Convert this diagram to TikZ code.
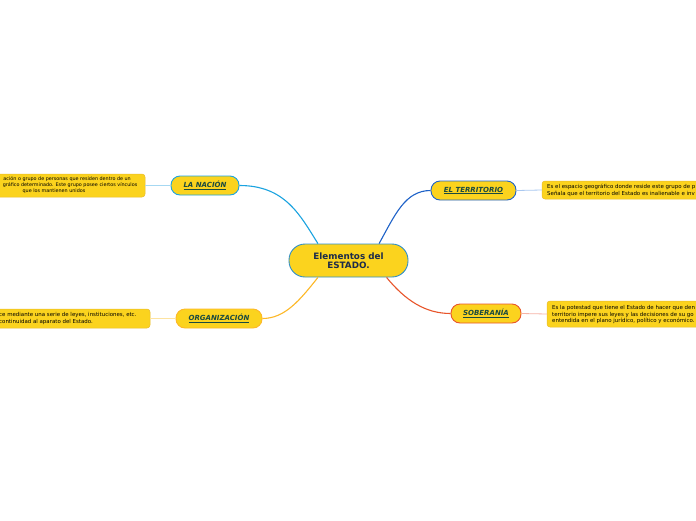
\documentclass[tikz,border=0pt]{standalone}
\usepackage{fontspec}
\setmainfont{DejaVu Sans}
\begin{document}
\begin{tikzpicture}[x=1pt,y=-1pt,
  yel/.style={fill=fillY},
  center/.style={yel,draw=bordC,line width=0.9pt,rounded corners=16pt,minimum width=119pt,minimum height=33pt,inner sep=0pt,align=center,text=txtC,font=\fontsize{8.8}{10.5}\selectfont\bfseries},
  topic/.style={yel,line width=0.9pt,rounded corners=9pt,minimum height=19pt,inner sep=0pt,text=txtT,font=\fontsize{7}{8}\selectfont\bfseries\itshape},
  notebox/.style={fill=fillY,draw=noteB,line width=0.5pt,rounded corners=3pt},
  notetxt/.style={inner sep=0pt,text=black,font=\fontsize{5.45}{6.5}\selectfont},
  notesmall/.style={inner sep=0pt,text=black,font=\fontsize{4.85}{6}\selectfont},
  mainlink/.style={line width=1.1pt},
  leaflink/.style={line width=0.8pt}
]
\definecolor{fillY}{HTML}{FBD31E}
\definecolor{bordC}{HTML}{2F8FC8}
\definecolor{txtC}{HTML}{1C2B4A}
\definecolor{txtT}{HTML}{1A4A40}
\definecolor{noteB}{HTML}{E9BC2A}
\definecolor{cNac}{HTML}{1AA3E0}
\definecolor{cTer}{HTML}{1E62C8}
\definecolor{cSob}{HTML}{E8552B}
\definecolor{cOrg}{HTML}{FDB827}
\definecolor{lNac}{HTML}{A6D8F2}
\definecolor{lTer}{HTML}{A9C8F0}
\definecolor{lSob}{HTML}{F6B3A6}
\definecolor{lOrg}{HTML}{FDE3A0}
\path[use as bounding box] (0,0) rectangle (696,520);
\fill[white] (0,0) rectangle (696,520);
\clip (0,0) rectangle (696,520);

% note boxes
\path[notebox] (-40,174) rectangle (145,197);
\coordinate (nacNote) at (145,185.5);
\path[notebox] (-40,309) rectangle (150,328);
\coordinate (orgNote) at (150,318.5);
\path[notebox] (542,181) rectangle (740,199);
\coordinate (terNote) at (542,190);
\path[notebox] (547,301) rectangle (740,327);
\coordinate (sobNote) at (547,314);

\node[notesmall,anchor=east] (n1a) at (131,179.5) {ación o grupo de personas que residen dentro de un};
\node[notesmall,anchor=east] (n1b) at (137.5,185.5) {gráfico determinado. Este grupo posee ciertos vínculos};
\node[notesmall] (n1c) at (54,191.5) {que los mantienen unidos};

\node[notetxt,anchor=west] (n2a) at (-1,315) {ce mediante una serie de leyes, instituciones, etc.};
\node[notetxt,anchor=west] (n2b) at (-1,321.5) {continuidad al aparato del Estado.};

\node[notetxt,anchor=west] (n3a) at (547,187) {Es el espacio geográfico donde reside este grupo de p};
\node[notetxt,anchor=west] (n3b) at (547,193.5) {Señala que el territorio del Estado es inalienable e inv};

\node[notetxt,anchor=west] (n4a) at (552,308) {Es la potestad que tiene el Estado de hacer que den};
\node[notetxt,anchor=west] (n4b) at (552,314.5) {territorio impere sus leyes y las decisiones de su go};
\node[notetxt,anchor=west] (n4c) at (552,321) {entendida en el plano jurídico, político y económico.};

% main nodes
\node[center] (c) at (348.5,260.5) {Elementos del\\[-1pt]ESTADO.};
\node[topic,draw=cNac,minimum width=68pt] (nac) at (205,185.5) {\underline{LA NACIÓN}};
\node[topic,draw=cTer,minimum width=85pt] (ter) at (473.5,190.5) {\underline{EL TERRITORIO}};
\node[topic,draw=cSob,minimum width=70pt] (sob) at (486,313.5) {\underline{SOBERANÍA}};
\node[topic,draw=cOrg,minimum width=86pt] (org) at (219,318.5) {\underline{ORGANIZACIÓN}};

% connectors
\draw[mainlink,cNac] (c.151.6) .. controls (300,215) and (285,185.5) .. (nac.east);
\draw[mainlink,cTer] (c.29.5) .. controls (395,215) and (405,190.5) .. (ter.west);
\draw[mainlink,cSob] (c.-24.9) .. controls (405,300) and (425,313.5) .. (sob.west);
\draw[mainlink,cOrg] (c.-151.6) .. controls (300,300) and (285,318.5) .. (org.east);

\draw[leaflink,lNac] (nac.west) -- (nacNote);
\draw[leaflink,lOrg] (org.west) -- (orgNote);
\draw[leaflink,lTer] (ter.east) -- (terNote);
\draw[leaflink,lSob] (sob.east) -- (sobNote);
\end{tikzpicture}
\end{document}
